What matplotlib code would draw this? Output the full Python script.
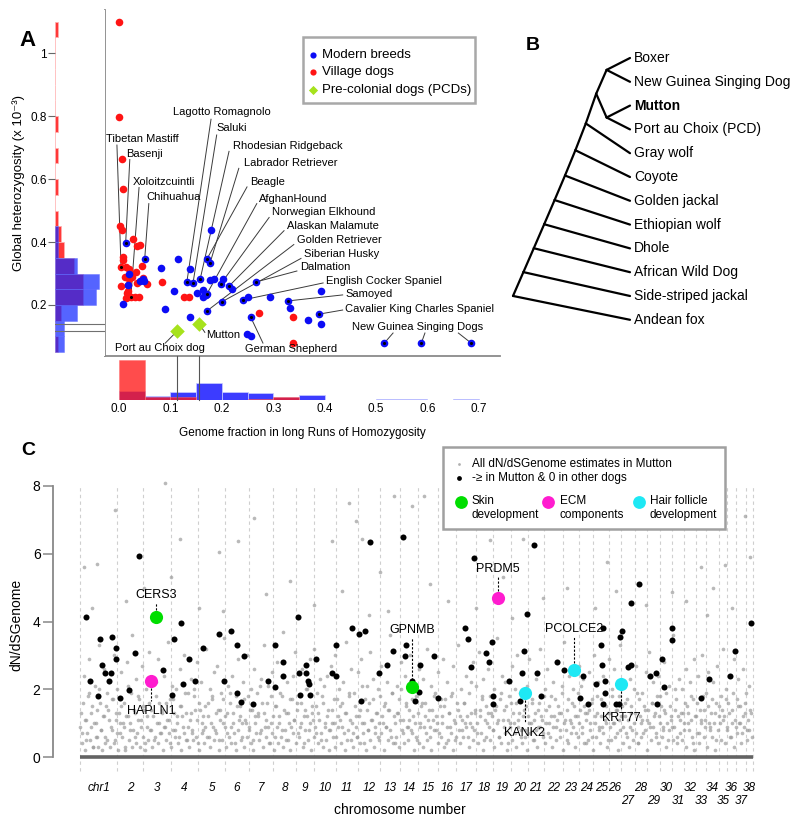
import numpy as np
import matplotlib
matplotlib.use("Agg")
import matplotlib.pyplot as plt
from matplotlib.patches import Rectangle
from matplotlib.transforms import blended_transform_factory, offset_copy

plt.rcParams['font.family'] = ['Liberation Sans', 'DejaVu Sans']

# ======================= DATA : panel A =======================
modern_x = [0.013, 0.050, 0.049, 0.047, 0.008, 0.018, 0.020, 0.040, 0.115, 0.082, 0.107, 0.090, 0.138, 0.132, 0.138, 0.144,
            0.158, 0.152, 0.164, 0.170, 0.164, 0.179, 0.171, 0.177, 0.177, 0.185, 0.198, 0.202, 0.214, 0.220, 0.200, 0.171,
            0.171, 0.241, 0.251, 0.266, 0.293, 0.329, 0.333, 0.368, 0.389, 0.393, 0.393, 0.256, 0.249, 0.257, 0.516, 0.588,
            0.685]
modern_y = [0.397, 0.346, 0.276, 0.282, 0.203, 0.265, 0.300, 0.275, 0.346, 0.317, 0.245, 0.187, 0.162, 0.273, 0.314, 0.270,
            0.283, 0.238, 0.225, 0.232, 0.248, 0.438, 0.346, 0.333, 0.280, 0.283, 0.267, 0.283, 0.260, 0.250, 0.210, 0.181,
            0.235, 0.216, 0.225, 0.273, 0.225, 0.213, 0.190, 0.152, 0.171, 0.244, 0.140, 0.162, 0.108, 0.102, 0.079, 0.079,
            0.079]
village_x = [0.000, 0.000, 0.006, 0.008, 0.002, 0.006, 0.027, 0.041, 0.035, 0.008, 0.008, 0.014, 0.019, 0.045, 0.004, 0.012,
             0.020, 0.026, 0.033, 0.047, 0.035, 0.004, 0.018, 0.054, 0.018, 0.016, 0.013, 0.018, 0.023, 0.031, 0.039, 0.084,
             0.127, 0.137, 0.272, 0.338, 0.338]
village_y = [1.098, 0.797, 0.663, 0.568, 0.450, 0.438, 0.410, 0.390, 0.387, 0.352, 0.343, 0.320, 0.315, 0.324, 0.321, 0.289,
             0.282, 0.289, 0.305, 0.286, 0.270, 0.260, 0.263, 0.266, 0.244, 0.238, 0.222, 0.225, 0.225, 0.225, 0.225, 0.273,
             0.225, 0.225, 0.175, 0.162, 0.080]
pcd_names = ["Port au Choix dog", "Mutton"]
pcd_x = [0.113, 0.156]
pcd_y = [0.117, 0.140]

breed_names = ["Tibetan Mastiff", "Basenji", "Xoloitzcuintli", "Chihuahua", "Lagotto Romagnolo", "Saluki",
               "Rhodesian Ridgeback", "Labrador Retriever", "Beagle", "AfghanHound", "Norwegian Elkhound",
               "Alaskan Malamute", "Golden Retriever", "Siberian Husky", "Dalmation", "English Cocker Spaniel",
               "Samoyed", "Cavalier King Charles Spaniel", "German Shepherd"]
breed_x = [0.004, 0.013, 0.023, 0.050, 0.132, 0.144, 0.158, 0.177, 0.171, 0.171, 0.198, 0.214, 0.171, 0.200, 0.266,
           0.241, 0.329, 0.389, 0.256]
breed_y = [0.321, 0.397, 0.225, 0.346, 0.273, 0.270, 0.283, 0.333, 0.346, 0.235, 0.267, 0.260, 0.181, 0.210, 0.273,
           0.216, 0.213, 0.171, 0.162]
ngsd_label = "New Guinea Singing Dogs"
ngsd_x = [0.516, 0.588, 0.685]
ngsd_y = [0.079, 0.079, 0.079]

# ======================= DATA : panel B =======================
dog_clade = ("Boxer", "New Guinea Singing Dog")
pcd_clade = ("Mutton", "Port au Choix (PCD)")
outgroups = ["Gray wolf", "Coyote", "Golden jackal", "Ethiopian wolf", "Dhole", "African Wild Dog",
             "Side-striped jackal", "Andean fox"]
bold_tips = ["Mutton"]

# ======================= DATA : panel C =======================
chrom_labels = ["chr1", "2", "3", "4", "5", "6", "7", "8", "9", "10", "11", "12", "13", "14", "15", "16", "17", "18",
                "19", "20", "21", "22", "23", "24", "25", "26", "27", "28", "29", "30", "31", "32", "33", "34", "35",
                "36", "37", "38"]
chrom_len = [122, 85, 92, 89, 89, 77, 81, 74, 61, 70, 74, 72, 64, 61, 64, 60, 65, 56, 58, 58, 51, 62, 53, 48, 51, 39,
             46, 41, 42, 40, 40, 39, 32, 42, 26, 31, 31, 24]

gray_pos = [3, 8, 12, 17, 21, 26, 30, 35, 39, 44, 48, 52, 57, 61, 66, 70, 74, 79, 83, 88,
            92, 96, 101, 105, 110, 114, 118, 123, 127, 132, 136, 140, 145, 149, 154, 158, 163, 167, 172, 176,
            181, 185, 190, 194, 199, 203, 208, 212, 216, 221, 225, 230, 234, 239, 243, 248, 252, 257, 261, 266,
            270, 275, 279, 284, 288, 293, 297, 302, 306, 311, 315, 320, 324, 329, 333, 338, 342, 347, 351, 356,
            360, 365, 369, 374, 378, 383, 387, 392, 396, 401, 405, 410, 414, 419, 423, 428, 432, 437, 441, 446,
            450, 455, 459, 464, 468, 473, 477, 482, 486, 491, 495, 500, 504, 509, 513, 518, 522, 527, 531, 536,
            540, 545, 549, 554, 558, 563, 567, 572, 576, 581, 585, 590, 594, 599, 603, 608, 612, 617, 621, 626,
            630, 635, 639, 644, 648, 653, 657, 662, 666, 671, 675, 680, 684, 689, 693, 698, 702, 707, 711, 716,
            720, 725, 729, 734, 738, 743, 747, 752, 756, 761, 765, 770, 774, 779, 783, 788, 792, 797, 801, 806,
            810, 815, 819, 824, 828, 833, 837, 842, 846, 851, 855, 860, 864, 869, 873, 878, 882, 887, 891, 896,
            900, 905, 909, 914, 918, 923, 927, 932, 936, 941, 945, 950, 954, 959, 963, 968, 972, 977, 981, 986,
            990, 995, 999, 1004, 1008, 1013, 1017, 1022, 1026, 1031, 1035, 1040, 1044, 1049, 1053, 1058, 1062, 1067, 1071, 1076,
            1080, 1085, 1089, 1094, 1098, 1103, 1107, 1112, 1116, 1121, 1125, 1130, 1134, 1139, 1143, 1148, 1152, 1157, 1161, 1166,
            1170, 1175, 1179, 1184, 1188, 1193, 1197, 1202, 1206, 1211, 1215, 1220, 1224, 1229, 1233, 1238, 1242, 1247, 1251, 1256,
            1260, 1265, 1269, 1274, 1278, 1283, 1287, 1292, 1296, 1301, 1305, 1310, 1314, 1319, 1323, 1328, 1332, 1337, 1341, 1346,
            1350, 1355, 1359, 1364, 1368, 1373, 1377, 1382, 1386, 1391, 1395, 1400, 1404, 1409, 1413, 1418, 1422, 1427, 1431, 1436,
            1440, 1445, 1449, 1454, 1458, 1463, 1467, 1472, 1476, 1481, 1485, 1490, 1494, 1499, 1503, 1508, 1512, 1517, 1521, 1526,
            1530, 1535, 1539, 1544, 1548, 1553, 1557, 1562, 1566, 1571, 1575, 1580, 1584, 1589, 1593, 1598, 1602, 1607, 1611, 1616,
            1620, 1625, 1629, 1634, 1638, 1643, 1647, 1652, 1656, 1661, 1665, 1670, 1674, 1679, 1683, 1688, 1692, 1697, 1701, 1706,
            1710, 1715, 1719, 1724, 1728, 1733, 1737, 1742, 1746, 1751, 1755, 1760, 1764, 1769, 1773, 1778, 1782, 1787, 1791, 1796,
            1800, 1805, 1809, 1814, 1818, 1823, 1827, 1832, 1836, 1841, 1845, 1850, 1854, 1859, 1863, 1868, 1872, 1877, 1881, 1886,
            1890, 1895, 1899, 1904, 1908, 1913, 1917, 1922, 1926, 1931, 1935, 1940, 1944, 1949, 1953, 1958, 1962, 1967, 1971, 1976,
            1980, 1985, 1989, 1994, 1998, 2003, 2007, 2012, 2016, 2021, 2025, 2030, 2034, 2039, 2043, 2048, 2052, 2057, 2061, 2066,
            2070, 2075, 2079, 2084, 2088, 2093, 2097, 2102, 2106, 2111, 2115, 2120, 2124, 2129, 2133, 2138, 2142, 2147, 2151, 2156,
            2160, 2165, 2169, 2174, 2178, 2183, 2187, 2192, 2196, 2201]
gray_val = [1.3, 0.7, 2.4, 1.1, 0.5, 1.8, 2.9, 0.9, 1.5, 0.3, 2.1, 1.0, 0.6, 3.3, 1.6, 0.8, 1.2, 2.6, 0.4, 1.9,
            1.4, 2.2, 0.9, 1.7, 3.0, 0.5, 1.1, 2.0, 1.3, 0.7, 2.5, 1.0, 1.6, 0.3, 2.8, 1.2, 0.8, 1.9, 3.6, 1.4,
            0.6, 2.3, 1.1, 1.7, 0.9, 2.7, 1.5, 0.4, 2.0, 1.2, 3.1, 0.8, 1.4, 2.2, 0.5, 1.8, 1.0, 2.9, 1.6, 0.7,
            1.3, 2.4, 0.9, 1.6, 3.4, 1.1, 0.4, 2.1, 1.7, 0.8, 2.0, 1.2, 0.6, 2.6, 1.5, 0.9, 3.0, 1.3, 0.5, 1.9,
            1.1, 2.3, 0.7, 1.8, 1.4, 2.8, 0.4, 1.6, 2.2, 1.0, 0.8, 1.5, 3.2, 1.2, 0.6, 2.0, 1.7, 0.9, 2.5, 1.3,
            2.7, 0.5, 1.4, 1.9, 1.0, 3.5, 1.2, 0.7, 2.1, 1.6, 0.9, 2.4, 1.3, 0.4, 1.8, 2.9, 1.1, 1.5, 0.6, 2.2,
            1.7, 1.0, 3.0, 0.8, 1.4, 2.0, 0.5, 2.6, 1.2, 1.9, 1.3, 0.7, 2.3, 1.6, 3.3, 0.9, 1.1, 2.1, 0.4, 1.8,
            2.5, 1.2, 0.6, 1.5, 2.8, 1.0, 1.9, 0.8, 3.7, 1.4, 0.5, 2.2, 1.3, 1.7, 0.9, 2.4, 1.1, 3.1, 1.6, 0.7,
            1.8, 1.0, 2.6, 0.4, 1.4, 2.0, 1.2, 0.8, 2.9, 1.5, 1.1, 3.2, 0.7, 1.9, 1.3, 2.3, 0.5, 1.6, 2.1, 0.9,
            2.4, 1.4, 0.8, 2.7, 1.0, 1.7, 3.0, 0.6, 1.2, 2.0, 1.5, 0.9, 2.2, 1.3, 3.4, 0.5, 1.8, 1.1, 2.6, 0.7,
            1.9, 1.2, 0.6, 2.5, 1.4, 2.9, 1.0, 0.4, 1.7, 2.1, 0.8, 1.6, 3.1, 1.1, 2.3, 0.7, 1.3, 2.0, 0.5, 1.8,
            2.7, 1.0, 1.5, 0.9, 2.2, 1.4, 3.6, 0.6, 1.9, 1.2, 0.4, 2.1, 1.3, 1.7, 2.8, 0.8, 1.1, 2.4, 1.6, 0.9,
            1.4, 3.0, 0.7, 1.2, 2.0, 1.8, 0.5, 2.6, 1.0, 1.5, 2.3, 0.9, 1.6, 3.2, 1.1, 0.6, 2.1, 1.4, 0.8, 1.9,
            1.2, 2.5, 0.7, 1.7, 1.0, 2.9, 1.5, 0.4, 2.2, 1.3, 0.9, 1.8, 2.7, 1.1, 0.5, 1.6, 3.3, 1.2, 2.0, 0.8,
            1.6, 1.0, 2.4, 0.6, 1.9, 1.3, 0.9, 2.8, 1.4, 2.1, 0.7, 3.1, 1.2, 1.7, 2.3, 0.5, 1.5, 1.0, 2.6, 1.8,
            1.3, 0.8, 2.0, 1.4, 3.5, 1.1, 0.6, 1.9, 2.4, 0.9, 2.2, 1.5, 0.4, 1.8, 1.0, 2.7, 1.3, 0.7, 1.6, 3.0,
            1.1, 1.9, 0.8, 2.5, 1.4, 0.6, 2.1, 1.2, 2.9, 1.0, 1.7, 0.5, 1.3, 2.3, 0.9, 1.6, 3.2, 1.1, 0.7, 2.0,
            1.4, 2.6, 1.0, 0.6, 1.8, 2.2, 1.2, 0.9, 2.8, 1.5, 0.8, 1.3, 2.1, 3.4, 1.1, 0.5, 1.7, 2.4, 1.0, 1.6,
            2.0, 1.2, 0.7, 1.9, 2.7, 1.4, 0.9, 2.3, 1.5, 0.4, 1.3, 2.5, 1.0, 1.6, 0.6, 3.0, 1.2, 1.8, 2.2, 0.8,
            1.7, 0.9, 2.4, 1.1, 1.5, 0.5, 2.9, 1.3, 2.0, 1.0, 2.6, 1.4, 0.7, 1.8, 3.3, 1.2, 0.9, 2.1, 1.6, 0.6,
            1.1, 2.3, 1.5, 0.8, 2.0, 1.3, 2.7, 0.4, 1.7, 1.0, 1.9, 0.7, 1.4, 2.5, 1.1, 3.1, 0.9, 1.6, 2.2, 1.2,
            0.6, 1.8, 2.4, 1.0, 1.5, 0.8, 2.8, 1.3, 1.9, 0.5, 2.1, 1.2, 0.9, 3.6, 1.4, 1.7, 0.6, 2.3, 1.1, 2.0,
            1.3, 0.8, 2.6, 1.5, 1.0, 2.2, 1.8, 0.4, 2.9, 1.2, 1.6, 2.4, 0.7, 1.1, 3.0, 1.4, 0.9, 1.9, 2.5, 1.0,
            0.8, 1.7, 2.2, 1.3, 0.5, 2.7, 1.5, 1.0, 1.8, 3.2, 1.2, 2.0, 0.9, 1.6, 2.4, 0.6, 1.4, 2.9, 1.1, 1.7,
            2.3, 1.0, 1.5, 0.7, 2.6, 1.3, 1.9, 0.8, 2.1, 1.4]
gray2_pos = [1, 6, 10, 15, 19, 24, 28, 33, 37, 42, 46, 51, 55, 60, 64, 69, 73, 78, 82, 87,
             90, 95, 99, 104, 108, 113, 117, 121, 126, 130, 134, 139, 143, 148, 152, 156, 161, 165, 170, 174,
             179, 183, 188, 192, 197, 201, 206, 210, 214, 219, 223, 228, 232, 237, 241, 246, 250, 255, 259, 264,
             268, 273, 277, 282, 286, 291, 295, 300, 304, 309, 313, 318, 322, 327, 331, 336, 340, 345, 349, 354,
             358, 363, 367, 372, 376, 381, 385, 390, 394, 399, 403, 408, 412, 417, 421, 426, 430, 435, 439, 444,
             448, 452, 457, 461, 466, 470, 475, 479, 484, 488, 493, 497, 502, 506, 511, 515, 520, 524, 529, 533,
             538, 542, 547, 551, 556, 560, 565, 569, 574, 578, 583, 587, 592, 596, 601, 605, 610, 614, 619, 623,
             628, 632, 637, 641, 646, 650, 655, 659, 664, 668, 673, 677, 682, 686, 691, 695, 700, 704, 709, 713,
             718, 722, 727, 731, 736, 740, 745, 749, 754, 758, 763, 767, 772, 776, 781, 785, 790, 794, 799, 803,
             808, 812, 817, 821, 826, 830, 835, 839, 844, 848, 853, 857, 862, 866, 871, 875, 880, 884, 889, 893,
             898, 902, 907, 911, 916, 920, 925, 929, 934, 938, 943, 947, 952, 956, 961, 965, 970, 974, 979, 983,
             988, 992, 997, 1001, 1006, 1010, 1015, 1019, 1024, 1028, 1033, 1037, 1042, 1046, 1051, 1055, 1060, 1064, 1069, 1073,
             1078, 1082, 1087, 1091, 1096, 1100, 1105, 1109, 1114, 1118, 1123, 1127, 1132, 1136, 1141, 1145, 1150, 1154, 1159, 1163,
             1168, 1172, 1177, 1181, 1186, 1190, 1195, 1199, 1204, 1208, 1213, 1217, 1222, 1226, 1231, 1235, 1240, 1244, 1249, 1253,
             1258, 1262, 1267, 1271, 1276, 1280, 1285, 1289, 1294, 1298, 1303, 1307, 1312, 1316, 1321, 1325, 1330, 1334, 1339, 1343,
             1348, 1352, 1357, 1361, 1366, 1370, 1375, 1379, 1384, 1388, 1393, 1397, 1402, 1406, 1411, 1415, 1420, 1424, 1429, 1433,
             1438, 1442, 1447, 1451, 1456, 1460, 1465, 1469, 1474, 1478, 1483, 1487, 1492, 1496, 1501, 1505, 1510, 1514, 1519, 1523,
             1528, 1532, 1537, 1541, 1546, 1550, 1555, 1559, 1564, 1568, 1573, 1577, 1582, 1586, 1591, 1595, 1600, 1604, 1609, 1613,
             1618, 1622, 1627, 1631, 1636, 1640, 1645, 1649, 1654, 1658, 1663, 1667, 1672, 1676, 1681, 1685, 1690, 1694, 1699, 1703,
             1708, 1712, 1717, 1721, 1726, 1730, 1735, 1739, 1744, 1748, 1753, 1757, 1762, 1766, 1771, 1775, 1780, 1784, 1789, 1793,
             1798, 1802, 1807, 1811, 1816, 1820, 1825, 1829, 1834, 1838, 1843, 1847, 1852, 1856, 1861, 1865, 1870, 1874, 1879, 1883,
             1888, 1892, 1897, 1901, 1906, 1910, 1915, 1919, 1924, 1928, 1933, 1937, 1942, 1946, 1951, 1955, 1960, 1964, 1969, 1973,
             1978, 1982, 1987, 1991, 1996, 2000, 2005, 2009, 2014, 2018, 2023, 2027, 2032, 2036, 2041, 2045, 2050, 2054, 2059, 2063,
             2068, 2072, 2077, 2081, 2086, 2090, 2095, 2099, 2104, 2108, 2113, 2117, 2122, 2126, 2131, 2135, 2140, 2144, 2149, 2153,
             2158, 2162, 2167, 2171, 2176, 2180, 2185, 2189, 2194, 2198, 2203, 2207]
gray2_val = [0.9, 0.4, 1.6, 0.2, 1.1, 0.7, 1.9, 0.5, 1.3, 0.3, 1.0, 0.6, 1.4, 0.3, 2.0, 0.8, 0.2, 1.2, 0.6, 1.5,
             0.5, 1.1, 0.3, 0.8, 1.7, 0.4, 1.3, 0.7, 0.2, 1.0, 1.5, 0.6, 0.9, 0.2, 1.2, 2.1, 0.5, 1.0, 0.3, 0.8,
             1.3, 0.4, 0.7, 1.8, 0.3, 1.1, 0.6, 1.4, 0.2, 0.9, 0.5, 1.6, 0.8, 0.3, 1.2, 0.6, 2.2, 0.4, 1.0, 0.7,
             1.4, 0.2, 0.9, 0.5, 1.1, 0.7, 1.7, 0.3, 0.8, 1.3, 0.6, 1.0, 0.4, 1.5, 0.2, 1.2, 0.7, 1.9, 0.5, 0.9,
             0.3, 1.3, 0.8, 0.5, 2.0, 0.6, 1.1, 0.2, 1.4, 0.7, 1.2, 0.4, 0.9, 0.6, 1.6, 0.3, 1.0, 1.8, 0.5, 0.8,
             0.7, 1.4, 0.2, 1.1, 0.5, 1.7, 0.9, 0.3, 1.3, 0.6, 1.9, 0.4, 1.0, 0.7, 0.2, 1.5, 0.8, 1.2, 0.5, 1.0,
             0.3, 1.1, 0.6, 1.8, 0.9, 0.4, 1.4, 0.2, 1.0, 0.7, 1.2, 0.5, 2.1, 0.8, 0.3, 1.3, 0.6, 1.6, 0.9, 0.4,
             1.0, 0.7, 0.2, 1.5, 0.9, 0.4, 1.2, 0.6, 1.8, 0.3, 0.8, 1.3, 0.5, 1.0, 0.2, 1.7, 0.7, 1.1, 0.4, 1.4,
             0.6, 0.9, 1.6, 0.3, 1.2, 0.8, 2.0, 0.5, 1.0, 0.2, 1.3, 0.6, 0.9, 1.5, 0.4, 1.1, 0.7, 1.8, 0.3, 1.0,
             0.5, 1.2, 0.2, 0.8, 1.4, 0.6, 1.0, 0.3, 1.7, 0.9, 1.1, 0.4, 1.6, 0.7, 0.2, 1.3, 0.8, 1.9, 0.5, 1.0,
             0.3, 1.5, 0.9, 0.6, 1.2, 0.4, 2.1, 0.7, 1.0, 0.2, 1.4, 0.8, 0.5, 1.1, 1.7, 0.3, 0.9, 1.3, 0.6, 1.0,
             0.7, 1.2, 0.2, 1.6, 0.9, 0.5, 1.4, 0.8, 1.9, 0.4, 1.0, 0.6, 1.3, 0.3, 1.1, 2.0, 0.7, 0.4, 1.5, 0.9,
             0.5, 1.1, 0.8, 1.7, 0.2, 1.0, 0.6, 1.3, 0.4, 0.9, 1.6, 0.3, 1.2, 0.7, 0.5, 1.4, 0.9, 0.2, 1.1, 1.8,
             0.8, 1.0, 0.4, 1.5, 0.6, 1.2, 0.3, 1.7, 0.9, 0.5, 1.3, 0.7, 1.9, 0.2, 1.0, 0.6, 1.4, 0.8, 0.4, 1.1,
             0.6, 1.6, 0.9, 1.2, 0.3, 1.0, 2.2, 0.5, 0.8, 1.3, 1.0, 0.4, 1.4, 0.7, 1.8, 0.2, 1.1, 0.6, 1.3, 0.9,
             0.5, 1.2, 0.8, 0.3, 1.5, 1.0, 0.6, 1.7, 0.4, 1.1, 1.4, 0.7, 0.2, 1.1, 0.9, 1.6, 0.5, 1.0, 2.0, 0.3,
             0.9, 1.3, 0.6, 0.4, 1.2, 0.8, 1.5, 0.2, 1.0, 0.7, 1.6, 0.5, 1.1, 0.8, 0.3, 1.4, 0.9, 1.2, 0.6, 1.8,
             0.4, 1.0, 0.7, 1.5, 1.2, 0.3, 0.9, 1.7, 0.5, 1.1, 1.3, 0.6, 1.9, 0.2, 1.0, 0.8, 1.4, 0.4, 1.1, 0.7,
             0.9, 1.5, 0.3, 1.2, 0.6, 1.0, 2.1, 0.7, 0.4, 1.3, 1.1, 0.5, 1.4, 0.8, 1.7, 0.2, 1.0, 0.6, 1.3, 0.9,
             0.4, 1.2, 0.7, 1.6, 1.0, 0.3, 1.3, 0.9, 0.5, 1.8, 1.0, 0.6, 1.4, 0.2, 1.1, 0.8, 1.5, 0.4, 1.2, 0.7,
             1.7, 0.3, 0.9, 1.3, 0.5, 1.0, 0.7, 1.9, 0.4, 1.2, 0.6, 1.1, 1.5, 0.8, 0.2, 1.4, 1.0, 0.5, 1.6, 0.9,
             1.3, 0.7, 0.4, 1.2, 1.8, 0.6, 0.9, 1.4, 0.3, 1.0, 0.8, 1.5, 1.1, 0.5, 0.9, 2.0, 0.4, 1.2, 0.7, 1.3,
             0.5, 1.0, 1.6, 0.3, 1.3, 0.8, 1.1, 0.6, 1.7, 0.2, 1.2, 0.7, 0.4, 1.4, 1.0, 1.8, 0.6, 1.1, 0.3, 1.5,
             0.9, 1.3, 0.6, 1.0, 0.2, 1.6, 0.8, 1.2, 0.5, 1.4, 1.1, 0.4, 1.7, 0.8, 1.3, 0.6, 1.0, 1.9, 0.3, 0.9,
             0.7, 1.5, 1.0, 0.4, 1.2, 0.9, 1.6, 0.5, 1.1, 0.8, 1.3, 0.6]
gray_hi_pos = [279, 115, 13, 56, 328, 456, 519, 571, 828, 883, 906, 926, 985, 1031, 1130, 1090, 2184, 1346, 1455, 1731,
               2039, 2118, 1944, 150, 210, 390, 610, 690, 770, 860, 1010, 1150, 1210, 1300, 1390, 1520, 1600, 1690,
               1760, 1860, 1990, 2080, 2140, 2200, 2060, 1420, 950, 470, 40, 300]
gray_hi_val = [8.1, 7.3, 5.6, 5.7, 6.45, 6.04, 6.37, 7.05, 6.37, 7.5, 6.96, 6.45, 5.45, 7.7, 7.7, 7.4, 7.1, 6.4, 6.45, 5.76,
               5.6, 5.67, 4.87, 4.6, 5.0, 4.4, 4.8, 5.2, 4.5, 4.9, 4.3, 5.1, 4.6, 4.4, 5.3, 4.7, 5.0, 4.4,
               4.9, 4.5, 4.6, 5.0, 4.4, 5.9, 4.2, 4.1, 4.2, 4.3, 4.4, 5.3]

black_pos = [20, 66, 105, 118, 117, 72, 82, 102, 33, 95, 181, 59, 161, 131, 194, 952, 1491, 1294, 1836, 1810,
             2204, 332, 716, 1468, 309, 456, 496, 404, 516, 539, 640, 841, 893, 916, 936, 1071, 1028, 1067, 1163, 1264,
             1274, 1353, 1458, 1718, 1780, 1773, 1711, 1944, 1944, 2151, 273, 358, 378, 338, 302, 473, 516, 667, 667, 617,
             640, 719, 742, 742, 775, 749, 752, 722, 755, 828, 841, 982, 1008, 1117, 1113, 1090, 1284, 1343, 1333, 1452,
             1501, 1409, 1589, 1567, 1652, 1695, 1714, 1724, 1724, 1800, 1810, 1911, 1872, 1892, 1918, 2066, 2135, 1642,
             1668, 1718, 1760, 1770, 1895, 2039, 1514, 568, 530, 923, 1100, 1176, 1356, 1356, 1445, 1061]
black_val = [4.13, 3.48, 3.54, 3.22, 2.89, 2.72, 2.48, 2.48, 2.24, 2.24, 3.07, 1.80, 1.98, 1.74, 5.93, 6.35, 6.26, 5.87,
             5.11, 4.55, 3.96, 3.96, 4.13, 4.22, 3.48, 3.63, 3.72, 3.22, 3.31, 2.98, 3.31, 3.31, 3.81, 3.63, 3.72, 3.31,
             3.13, 2.98, 2.98, 3.81, 3.48, 3.39, 3.13, 3.81, 3.72, 3.54, 3.31, 3.81, 3.45, 3.13, 2.57, 2.89, 2.24, 2.15,
             1.83, 2.24, 1.89, 2.80, 2.39, 2.24, 2.07, 2.48, 2.72, 2.48, 2.89, 2.24, 2.15, 1.83, 1.83, 2.48, 2.39, 2.48,
             2.72, 2.72, 1.92, 2.24, 2.66, 2.80, 3.07, 2.48, 2.48, 2.24, 2.57, 2.80, 2.39, 2.15, 2.72, 2.24, 1.89, 2.66,
             2.72, 2.89, 2.39, 2.48, 2.07, 2.30, 2.39, 1.74, 1.56, 1.56, 1.56, 1.56, 1.56, 1.74, 1.80, 1.56, 1.62, 1.65,
             1.65, 1.74, 1.80, 1.56, 1.65, 6.49]

gene_names = ["CERS3", "HAPLN1", "GPNMB", "PRDM5", "KANK2", "PCOLCE2", "KRT77"]
gene_pos = [250, 233, 1090, 1373, 1461, 1622, 1777]
gene_val = [4.13, 2.24, 2.07, 4.69, 1.89, 2.57, 2.15]
gene_group = ["Skin development", "ECM components", "Skin development", "ECM components",
              "Hair follicle development", "Hair follicle development", "Hair follicle development"]

# ======================= STYLE / LAYOUT =======================
W, H = 800, 822
BLUE, RED, LIME = '#0c0cf5', '#ff1414', '#a6e21c'
group_colors = {"Skin development": '#00de00', "ECM components": '#ff1ccf', "Hair follicle development": '#1ee8f4'}

fig = plt.figure(figsize=(W / 100, H / 100), dpi=100)


def fax(x0, y0, x1, y1, **kw):
    return fig.add_axes([x0 / W, 1 - y1 / H, (x1 - x0) / W, (y1 - y0) / H], **kw)


# ---------------- Panel A : scatter ----------------
XL = (-0.0272, 0.741)
YL = (0.038, 1.137)
axA = fax(105, 10, 500, 356)
axA.set_xlim(*XL)
axA.set_ylim(*YL)
for s in ['top', 'right']:
    axA.spines[s].set_visible(False)
for s in ['left', 'bottom']:
    axA.spines[s].set_color('#8a8a8a')
    axA.spines[s].set_linewidth(1.3)
axA.set_xticks([])
axA.set_yticks([])

# label layout: (text x, text y, ha, line-start x, line-start y)
label_layout = [
    (0.045, 0.727, 'center', -0.004, 0.708), (0.014, 0.679, 'left', 0.021, 0.662),
    (0.027, 0.590, 'left', 0.039, 0.573), (0.053, 0.543, 'left', 0.058, 0.522),
    (0.200, 0.813, 'center', 0.179, 0.790), (0.189, 0.762, 'left', 0.190, 0.740),
    (0.222, 0.705, 'left', 0.214, 0.688), (0.243, 0.651, 'left', 0.233, 0.634),
    (0.255, 0.590, 'left', 0.249, 0.575), (0.272, 0.537, 'left', 0.268, 0.522),
    (0.298, 0.495, 'left', 0.292, 0.478), (0.327, 0.451, 'left', 0.321, 0.436),
    (0.346, 0.406, 'left', 0.340, 0.392), (0.360, 0.362, 'left', 0.354, 0.348),
    (0.352, 0.321, 'left', 0.346, 0.308), (0.403, 0.276, 'left', 0.397, 0.270),
    (0.440, 0.235, 'left', 0.435, 0.232), (0.440, 0.187, 'left', 0.435, 0.184),
    (0.335, 0.060, 'center', 0.280, 0.079)]
LCOL = '#3a3a3a'
for name, bx, by, (tx, ty, ha, lx, ly) in zip(breed_names, breed_x, breed_y, label_layout):
    axA.plot([lx, bx], [ly, by], color=LCOL, lw=0.7, zorder=2, clip_on=False)
    axA.text(tx, ty, name, ha=ha, va='center', fontsize=8, zorder=6)
# NGSD
axA.text(0.58, 0.13, ngsd_label, ha='center', va='center', fontsize=8)
for (sx, sy), x, y in zip([(0.533, 0.111), (0.595, 0.111), (0.660, 0.111)], ngsd_x, ngsd_y):
    axA.plot([sx, x], [sy, y], color=LCOL, lw=0.7, zorder=2)
# PCD labels
axA.plot([0.167, pcd_x[1]], [0.113, pcd_y[1]], color=LCOL, lw=0.7, zorder=2)
axA.text(0.169, 0.106, pcd_names[1], ha='left', va='center', fontsize=8)
axA.plot([0.090, pcd_x[0]], [0.079, pcd_y[0]], color=LCOL, lw=0.7, zorder=2)
axA.text(0.080, 0.063, pcd_names[0], ha='center', va='center', fontsize=8)

axA.scatter(village_x, village_y, s=30, c=RED, lw=0, zorder=3)
axA.scatter(modern_x, modern_y, s=30, c=BLUE, lw=0, zorder=3)
axA.scatter(breed_x + ngsd_x, breed_y + ngsd_y, s=5, c='k', lw=0, zorder=4)
axA.scatter(pcd_x, pcd_y, marker='D', s=55, c=LIME, lw=0, zorder=4)

# ---------------- Panel A : left histogram ----------------
axL = fax(55, 10, 105, 356)
axL.set_ylim(*YL)
ybins_red = np.round(np.arange(0.05, 1.1001, 0.05), 3)
ybins_blue = np.round(np.arange(0.05, 0.4501, 0.05), 3)
axL.hist(village_y, bins=ybins_red, orientation='horizontal', color='#ff2222', alpha=0.9,
         edgecolor='#ffb0b0', linewidth=0.6)
axL.hist(modern_y, bins=ybins_blue, orientation='horizontal', color='#1428ff', alpha=0.72,
         edgecolor='#5a66ff', linewidth=0.4)
axL.set_xlim(0, 16)
for s in axL.spines.values():
    s.set_visible(False)
axL.set_xticks([])
axL.set_yticks([0.2, 0.4, 0.6, 0.8, 1.0])
axL.set_yticklabels(['0.2', '0.4', '0.6', '0.8', '1'])
axL.tick_params(axis='y', length=5, width=0.8, color='#666666', labelsize=8.5, pad=1)
for yv in pcd_y:
    axL.axhline(yv, color='#707070', lw=0.8, zorder=5)

# ---------------- Panel A : bottom histogram ----------------
axB = fax(105, 360, 500, 400)
axB.set_xlim(*XL)
xbins = np.round(np.arange(0, 0.7001, 0.05), 3)
xbins_red = np.round(np.arange(0, 0.3501, 0.05), 3)
axB.hist(modern_x, bins=xbins, color='#1a1aff', alpha=0.85, edgecolor='#c8ccff', linewidth=0.6)
cnt_red, _, _ = axB.hist(village_x, bins=xbins_red, color='#ff1a1a', alpha=0.78, edgecolor='#ff6a6a', linewidth=0.4)
axB.set_ylim(0, max(cnt_red))
for s in axB.spines.values():
    s.set_visible(False)
axB.set_yticks([])
axB.set_xticks(np.round(np.arange(0, 0.7001, 0.1), 2))
axB.set_xticklabels(['0.0', '0.1', '0.2', '0.3', '0.4', '0.5', '0.6', '0.7'])
axB.tick_params(axis='x', length=0, labelsize=8.5, pad=2)
for xv in pcd_x:
    axB.axvline(xv, ymin=0, ymax=1.1, color='#555555', lw=0.8, clip_on=False, zorder=5)

# ---------------- Panel C ----------------
chrom_len_a = np.array(chrom_len, float)
starts = np.concatenate([[0], np.cumsum(chrom_len_a)[:-1]])
centers = starts + chrom_len_a / 2
total = chrom_len_a.sum()

axC = fax(53, 476, 790, 775)
axC.set_xlim(-88.7, 2331.7)
axC.set_ylim(-0.531, 8.295)
for s in ['top', 'right', 'bottom']:
    axC.spines[s].set_visible(False)
axC.spines['left'].set_bounds(0, 8)
axC.spines['left'].set_color('#888888')
axC.spines['left'].set_linewidth(1.3)
axC.set_yticks([0, 2, 4, 6, 8])
axC.tick_params(axis='y', length=7, width=1.1, color='#888888', labelsize=10, pad=2)
axC.set_xticks([])

# chromosome labels: two rows for the small chromosomes
blend = blended_transform_factory(axC.transData, axC.transAxes)
for i, (cx, lab) in enumerate(zip(centers, chrom_labels)):
    lower = i >= 26 and int(lab) % 2 == 1
    tr = offset_copy(blend, fig=fig, y=(-26 if lower else -13), units='dots')
    axC.text(cx, 0, lab, transform=tr, ha='center', va='center', fontsize=8.5, fontstyle='italic')

axC.vlines(np.append(starts, total), -0.4, 8.0, colors='#cfcfcf', lw=0.8, linestyles=(0, (3, 3)), zorder=1)
axC.hlines(0, 0, total, colors='#636363', lw=2.6, zorder=2)

n1 = min(len(gray_pos), len(gray_val))
n2 = min(len(gray2_pos), len(gray2_val))
gx = list(gray_pos[:n1]) + list(gray2_pos[:n2]) + gray_hi_pos
gy = list(gray_val[:n1]) + list(gray2_val[:n2]) + gray_hi_val
axC.scatter(gx, gy, s=7, c='#9c9c9c', alpha=0.7, lw=0, zorder=2)
axC.scatter(black_pos, black_val, s=19, c='k', lw=0, zorder=3)

gene_label_val = [4.78, 1.36, 3.75, 5.55, 0.71, 3.78, 1.15]
for name, gp, gv, grp, lv in zip(gene_names, gene_pos, gene_val, gene_group, gene_label_val):
    if lv > gv:
        axC.plot([gp, gp], [gv + 0.2, lv - 0.24], color='k', lw=0.8, ls=(0, (2, 1.5)), zorder=3)
    else:
        axC.plot([gp, gp], [gv - 0.2, lv + 0.28], color='k', lw=0.8, ls=(0, (2, 1.5)), zorder=3)
    axC.text(gp, lv, name, ha='center', va='center', fontsize=9, zorder=6)
    axC.scatter([gp], [gv], s=90, c=group_colors[grp], lw=0, zorder=5)

# ---------------- Overlay (legends, tree, letters) ----------------
axO = fig.add_axes([0, 0, 1, 1], zorder=20)
axO.set_xlim(0, W)
axO.set_ylim(H, 0)
axO.axis('off')

axO.text(27, 40, 'A', fontsize=16, fontweight='bold', ha='center', va='center')
axO.text(533, 45, 'B', fontsize=14, fontweight='bold', ha='center', va='center')
axO.text(28, 450, 'C', fontsize=14, fontweight='bold', ha='center', va='center')

fig.text(302 / W, 1 - 433 / H, 'Genome fraction in long Runs of Homozygosity', ha='center', va='center', fontsize=8.5)
fig.text(19 / W, 1 - 183 / H, 'Global heterozygosity (x 10\u207b\u00b3)', ha='center', va='center',
         rotation=90, fontsize=9.5)
fig.text(16 / W, 1 - 625 / H, 'dN/dSGenome', ha='center', va='center', rotation=90, fontsize=10)
fig.text(400 / W, 1 - 810 / H, 'chromosome number', ha='center', va='center', fontsize=10)

# legend A
axO.add_patch(Rectangle((303, 37), 172, 66, facecolor='white', edgecolor='#a8a8a8', lw=1.8))
for yy, col, mk, txt, sz in [(55, BLUE, 'o', 'Modern breeds', 20), (72, RED, 'o', 'Village dogs', 20),
                             (90, LIME, 'D', 'Pre-colonial dogs (PCDs)', 22)]:
    axO.scatter([313], [yy], s=sz, c=col, marker=mk, lw=0)
    axO.text(322, yy, txt, ha='left', va='center', fontsize=9.5)

# legend C
axO.add_patch(Rectangle((443, 447), 282, 82, facecolor='white', edgecolor='#a0a0a0', lw=1.8))
axO.scatter([459], [464], s=4, c='#b0b0b0', lw=0)
axO.text(472, 464, 'All dN/dSGenome estimates in Mutton', ha='left', va='center', fontsize=8.5)
axO.scatter([459], [478], s=12, c='k', lw=0)
axO.text(472, 478, '-\u2265 in Mutton & 0 in other dogs', ha='left', va='center', fontsize=8.5)
for cx, tx, (grp, txt) in zip([461, 548, 639], [472, 560, 650],
                              [("Skin development", "Skin\ndevelopment"),
                               ("ECM components", "ECM\ncomponents"),
                               ("Hair follicle development", "Hair follicle\ndevelopment")]):
    axO.scatter([cx], [502], s=85, c=group_colors[grp], lw=0)
    axO.text(tx, 508, txt, ha='left', va='center', fontsize=8.5, linespacing=1.15)

# tree (panel B): nested from the dog clade outward
tree = (dog_clade, pcd_clade)
for og in outgroups:
    tree = (tree, og)

tips = []


def collect(node):
    if isinstance(node, str):
        tips.append(node)
    else:
        for c in node:
            collect(c)


collect(tree)
tip_y = {name: 58 + i * 23.8 for i, name in enumerate(tips)}
TIP_X, ROOT_X, STEP = 630, 513, 10.4


def draw(node, depth):
    if isinstance(node, str):
        return TIP_X, tip_y[node]
    pts = [draw(c, depth + 1) for c in node]
    x = ROOT_X + depth * STEP
    y = np.mean([p[1] for p in pts])
    for cx, cy in pts:
        axO.plot([x, cx], [y, cy], color='k', lw=1.6, solid_capstyle='round')
    return x, y


draw(tree, 0)
for name in tips:
    axO.text(TIP_X + 4, tip_y[name], name, ha='left', va='center', fontsize=10,
             fontweight='bold' if name in bold_tips else 'normal')

fig.savefig('out.png', dpi=100)
